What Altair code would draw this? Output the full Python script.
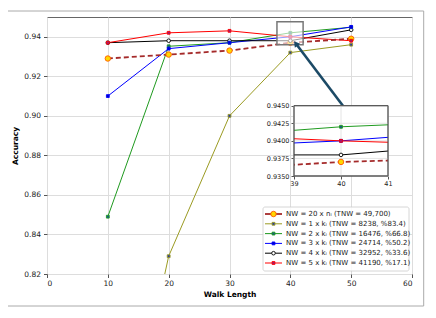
import altair as alt
import pandas as pd

walk = [10, 20, 30, 40, 50]
series = [
    "NW = 20 x nᵢ (TNW = 49,700)",
    "NW = 1 x kᵢ (TNW = 8238,  %83.4)",
    "NW = 2 x kᵢ (TNW = 16476, %66.8)",
    "NW = 3 x kᵢ (TNW = 24714, %50.2)",
    "NW = 4 x kᵢ (TNW = 32952, %33.6)",
    "NW = 5 x kᵢ (TNW = 41190, %17.1)",
]
acc_nw20 = [0.929, 0.931, 0.933, 0.937, 0.939]
acc_k1 = [0.688, 0.829, 0.900, 0.932, 0.936]
acc_k2 = [0.849, 0.9352, 0.937, 0.942, 0.9448]
acc_k3 = [0.910, 0.934, 0.937, 0.940, 0.945]
acc_k4 = [0.937, 0.938, 0.938, 0.938, 0.9435]
acc_k5 = [0.937, 0.942, 0.943, 0.940, 0.938]
line_colors = ["#a52a2a", "#9b9b22", "#1f9a1f", "#0000ff", "#000000", "#ff0000"]
marker_fill = ["#ffd700", "#2a3aa0", "#1a5a8a", "#0000cc", "#ffffff", "#9a1a7a"]
marker_stroke = ["#ff5a00", "#9b9b22", "#1f9a1f", "#0000ff", "#000000", "#ff0000"]

main_ticks_x = [0, 10, 20, 30, 40, 50, 60]
main_ticks_y = [0.82, 0.84, 0.86, 0.88, 0.90, 0.92, 0.94]
inset_ticks_x = [39, 40, 41]
inset_ticks_y = [0.935, 0.9375, 0.94, 0.9425, 0.945]
zoom_box = {"x1": 37.8, "x2": 42.1, "y1": 0.936, "y2": 0.9476}
arrow = {"x1": 48.8, "y1": 0.9045, "x2": 40.9, "y2": 0.9366}

rows = []
for s, vals in zip(series, [acc_nw20, acc_k1, acc_k2, acc_k3, acc_k4, acc_k5]):
    for w, a in zip(walk, vals):
        rows.append({"series": s, "walk": w, "acc": a})
df = pd.DataFrame(rows)
df_dash = df[df.series == series[0]]
df_solid = df[df.series != series[0]]

FONT = "DejaVu Sans"
color_scale = alt.Scale(domain=series, range=line_colors)
fill_scale = alt.Scale(domain=series, range=marker_fill)
stroke_scale = alt.Scale(domain=series, range=marker_stroke)

# marker groups: (series subset, shape, size)
marker_groups = [
    ([series[0]], "circle", 30),
    ([series[4]], "circle", 13),
    ([series[1], series[2], series[3], series[5]], "square", 8),
]


def point_layers(data, x=None, y="acc:Q", clip=None, xval=None):
    layers = []
    for names, shape, size in marker_groups:
        sub = data[data.series.isin(names)]
        kw = dict(filled=True, opacity=1, strokeWidth=0.9, shape=shape, size=size)
        if clip is not None:
            kw["clip"] = clip
        enc = dict(
            y=y,
            fill=alt.Fill("series:N", scale=fill_scale, legend=None),
            stroke=alt.Stroke("series:N", scale=stroke_scale, legend=None),
        )
        if xval is not None:
            enc["x"] = alt.value(xval)
        else:
            enc["x"] = x
        layers.append(alt.Chart(sub).mark_point(**kw).encode(**enc))
    return layers


# ---------- main plot ----------
mx = alt.Scale(domain=[0, 60], nice=False, zero=False)
my = alt.Scale(domain=[0.82, 0.95], nice=False, zero=False)
X = alt.X("walk:Q", scale=mx, axis=alt.Axis(values=main_ticks_x, title="Walk Length", grid=True,
          gridColor="#dddddd", domain=False, tickColor="#555", tickSize=3.5, labelFontSize=7.5,
          labelFont=FONT, titleFont=FONT, titleFontSize=7.5, titleFontWeight="bold",
          labelColor="#222", titleColor="#000", labelPadding=2, titlePadding=3))
Y = alt.Y("acc:Q", scale=my, axis=alt.Axis(values=main_ticks_y, format=".2f", title="Accuracy", grid=True,
          gridColor="#dddddd", domain=False, tickColor="#555", tickSize=3.5, labelFontSize=7.5,
          labelFont=FONT, titleFont=FONT, titleFontSize=7.5, titleFontWeight="bold",
          labelColor="#222", titleColor="#000", labelPadding=3, titlePadding=4))

main_solid = alt.Chart(df_solid).mark_line(strokeWidth=1, clip=True).encode(
    x=X, y=Y, color=alt.Color("series:N", scale=color_scale, legend=None), detail="series:N")
main_dash = alt.Chart(df_dash).mark_line(strokeWidth=1.8, strokeDash=[5, 3], clip=True).encode(
    x="walk:Q", y="acc:Q", color=alt.Color("series:N", scale=color_scale, legend=None))
main_pts = point_layers(df, x="walk:Q", clip=True)
zb = alt.Chart(pd.DataFrame([zoom_box])).mark_rect(fill="white", fillOpacity=0.6, stroke="#777",
                                                    strokeWidth=1.5).encode(
    x="x1:Q", x2="x2:Q", y="y1:Q", y2="y2:Q")
ar = alt.Chart(pd.DataFrame([arrow])).mark_rule(color="#1c4a66", strokeWidth=2.6).encode(
    x="x1:Q", y="y1:Q", x2="x2:Q", y2="y2:Q")
ar_head = alt.Chart(pd.DataFrame([arrow])).mark_point(shape="triangle-up", filled=True, fill="#1c4a66",
                                                       size=45, angle=323, opacity=1).encode(
    x="x2:Q", y="y2:Q")
main = alt.layer(main_solid, main_dash, *main_pts, zb, ar, ar_head)

# ---------- inset ----------
ix = alt.Scale(domain=[39, 41], range=[247, 341], nice=False, zero=False)
iy = alt.Scale(domain=[0.935, 0.945], range=[159, 88.7], nice=False, zero=False)
clip_expr = alt.ExprRef(expr="pathShape('M247,88.7H341V159H247Z')")
box_df = pd.DataFrame([{"x1": 39, "x2": 41, "y1": 0.935, "y2": 0.945}])
ibg = alt.Chart(box_df).mark_rect(fill="white", stroke="#555", strokeWidth=1).encode(
    x=alt.X("x1:Q", scale=ix, axis=alt.Axis(values=inset_ticks_x, orient="bottom", offset=-98,
            labelExpr="format(datum.value, '.0f')",
            title=None, grid=False, domain=False, tickColor="#555", tickSize=3, labelFontSize=6.5,
            labelFont=FONT, labelColor="#222", labelPadding=1, labelOverlap=False, labelFlush=False,
            labelBound=False)),
    x2="x2:Q",
    y=alt.Y("y1:Q", scale=iy, axis=alt.Axis(values=inset_ticks_y, format=".4f", orient="left", offset=-247,
            title=None, grid=False, domain=False, tickColor="#555", tickSize=3, labelFontSize=6.5,
            labelFont=FONT, labelColor="#222", labelPadding=2, labelOverlap=False, labelFlush=False,
            labelBound=False)),
    y2="y2:Q")
igx = alt.Chart(pd.DataFrame({"t": inset_ticks_x})).mark_rule(color="#dddddd", strokeWidth=0.8).encode(
    x="t:Q", y=alt.datum(0.935), y2=alt.datum(0.945))
igy = alt.Chart(pd.DataFrame({"t": inset_ticks_y[1:-1]})).mark_rule(color="#dddddd", strokeWidth=0.8).encode(
    y="t:Q", x=alt.datum(39), x2=alt.datum(41))
in_solid = alt.Chart(df_solid).mark_line(strokeWidth=1, clip=clip_expr).encode(
    x="walk:Q", y="acc:Q", color=alt.Color("series:N", scale=color_scale, legend=None), detail="series:N")
in_dash = alt.Chart(df_dash).mark_line(strokeWidth=1.8, strokeDash=[5, 3], clip=clip_expr).encode(
    x="walk:Q", y="acc:Q", color=alt.Color("series:N", scale=color_scale, legend=None))
in_pts = point_layers(df, x="walk:Q", clip=clip_expr)
ibox = alt.Chart(box_df).mark_rect(fill=None, stroke="#555", strokeWidth=1).encode(
    x="x1:Q", x2="x2:Q", y="y1:Q", y2="y2:Q")
inset = alt.layer(ibg, igx, igy, in_solid, in_dash, *in_pts, ibox)

# ---------- legend ----------
ly = alt.Y("series:N", scale=alt.Scale(type="point", domain=series, range=[197, 246], padding=0), axis=None)
leg_df = pd.DataFrame({"series": series})
frame = alt.Chart(pd.DataFrame([{"a": 0}])).mark_rect(fill=None, stroke="#aaaaaa", strokeWidth=1).encode(
    x=alt.value(-42), x2=alt.value(376.7), y=alt.value(-6), y2=alt.value(289))
lbox = alt.Chart(pd.DataFrame([{"a": 0}])).mark_rect(fill="white", fillOpacity=0.85, stroke="#cccccc",
                                                      strokeWidth=0.8, cornerRadius=2).encode(
    x=alt.value(216), x2=alt.value(362), y=alt.value(190), y2=alt.value(254))
lline = alt.Chart(leg_df[leg_df.series != series[0]]).mark_rule(strokeWidth=1).encode(
    x=alt.value(218), x2=alt.value(235), y=ly, color=alt.Color("series:N", scale=color_scale, legend=None))
lline_d = alt.Chart(leg_df[leg_df.series == series[0]]).mark_rule(strokeWidth=1.8).encode(
    x=alt.value(218), x2=alt.value(235), y="series:N", color=alt.Color("series:N", scale=color_scale, legend=None))
lpts = point_layers(leg_df, y="series:N", xval=226.5)
ltext = alt.Chart(leg_df).mark_text(align="left", baseline="middle", font=FONT, fontSize=7, color="#222").encode(
    x=alt.value(239), y="series:N", text="series:N")
legend = alt.layer(frame, lbox, lline, lline_d, *lpts, ltext)

chart = alt.layer(main, inset, legend).resolve_scale(
    x="independent", y="independent"
).properties(
    width=365, height=257,
    autosize=alt.AutoSizeParams(type="none"),
    padding={"left": 39, "top": 9, "right": 16, "bottom": 34},
).configure_view(stroke="#666", strokeWidth=1)

chart.save("out.html", embed_options={"renderer": "svg", "actions": False})
